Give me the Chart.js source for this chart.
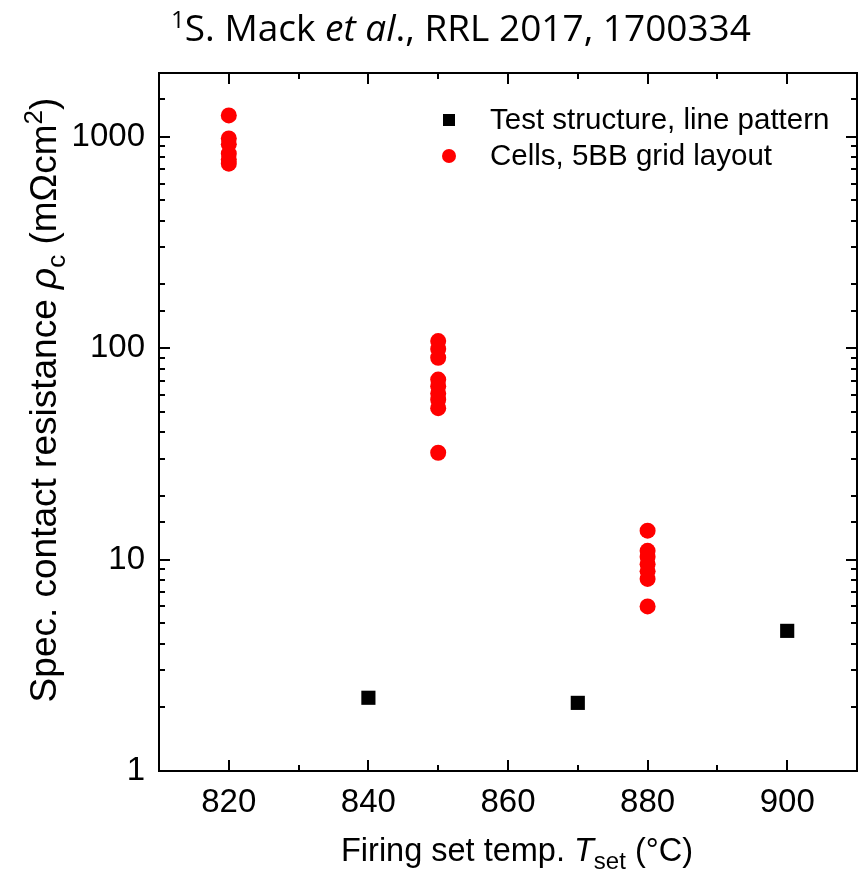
<!DOCTYPE html>
<html>
<head>
<meta charset="utf-8">
<script src="https://cdn.jsdelivr.net/npm/chart.js@4"></script>
<style>
  html, body { margin: 0; padding: 0; background: #fff; overflow: hidden; }
  #chart { display: block; }
</style>
</head>
<body>
<canvas id="chart" width="860" height="878"></canvas>
<script>
/* ---------- DATA ---------- */
const testTemps = [840, 870, 900];
const testValues = [2.22, 2.1, 4.6];

const cellTemps = [
  820, 820, 820, 820, 820, 820,
  850, 850, 850, 850, 850, 850, 850, 850, 850,
  880, 880, 880, 880, 880, 880, 880
];
const cellValues = [
  1260, 980, 920, 830, 780, 745,
  108, 99, 90, 71, 66, 61, 57, 52, 32,
  13.7, 11.0, 10.3, 9.5, 8.8, 8.1, 6.0
];

const xTickLabels = [820, 840, 860, 880, 900];
const yTickLabels = [1, 10, 100, 1000];

const seriesNames = ['Test structure, line pattern', 'Cells, 5BB grid layout'];

const AXIS_FONT = 'Liberation Sans, Arial, sans-serif';

/* ---------- RICH TEXT HELPER ---------- */
// segments: { t, size, style, dy } drawn one after another on one baseline
function drawRich(ctx, segs, x, y, family) {
  let total = 0;
  segs.forEach(s => {
    ctx.font = `${s.style || ''} ${s.size}px ${s.family || family}`;
    s.w = ctx.measureText(s.t).width;
    total += s.w;
  });
  let cx = x - total / 2;
  ctx.textAlign = 'left';
  ctx.textBaseline = 'alphabetic';
  segs.forEach(s => {
    ctx.font = `${s.style || ''} ${s.size}px ${s.family || family}`;
    ctx.fillText(s.t, cx, y + (s.dy || 0));
    cx += s.w;
  });
}

/* ---------- FRAME, TICKS, TITLES, LEGEND ---------- */
const decorPlugin = {
  id: 'decor',
  afterDraw(chart) {
    const ctx = chart.ctx;
    const a = chart.chartArea;
    const xs = chart.scales.x;
    const ys = chart.scales.y;
    ctx.save();
    ctx.strokeStyle = '#000';
    ctx.lineWidth = 2;
    ctx.strokeRect(a.left, a.top, a.right - a.left, a.bottom - a.top);

    ctx.beginPath();
    // x ticks (major every 20, minor every 10), bottom and top
    for (let v = 810; v <= 910; v += 10) {
      const px = Math.round(xs.getPixelForValue(v));
      const len = xTickLabels.includes(v) ? 11 : 6;
      ctx.moveTo(px, a.bottom); ctx.lineTo(px, a.bottom - len);
      ctx.moveTo(px, a.top); ctx.lineTo(px, a.top + len);
    }
    // y log ticks, left and right
    ys.ticks.forEach(t => {
      const v = t.value;
      if (v < ys.min || v > ys.max) return;
      const py = Math.round(ys.getPixelForValue(v));
      const len = yTickLabels.includes(v) ? 11 : 6;
      ctx.moveTo(a.left, py); ctx.lineTo(a.left + len, py);
      ctx.moveTo(a.right, py); ctx.lineTo(a.right - len, py);
    });
    ctx.stroke();

    ctx.fillStyle = '#000';
    // chart title
    drawRich(ctx, [
      { t: '1', size: 24, dy: -13 },
      { t: 'S. Mack ', size: 37 },
      { t: 'et al', size: 37, style: 'italic' },
      { t: '., RRL 2017, 1700334', size: 37 }
    ], 461, 41, 'Open Sans, Noto Sans, sans-serif');

    // x axis title
    drawRich(ctx, [
      { t: 'Firing set temp. ', size: 32.5 },
      { t: 'T', size: 32.5, style: 'italic' },
      { t: 'set', size: 24, dy: 8 },
      { t: ' (°C)', size: 32.5 }
    ], 517, 861, AXIS_FONT);

    // y axis title
    ctx.save();
    ctx.translate(56, 400);
    ctx.rotate(-Math.PI / 2);
    drawRich(ctx, [
      { t: 'Spec. contact resistance ', size: 37 },
      { t: 'ρ', size: 37, style: 'italic' },
      { t: 'c', size: 26, dy: 9 },
      { t: ' (mΩcm', size: 37 },
      { t: '2', size: 26, dy: -14 },
      { t: ')', size: 37 }
    ], 0, 0, AXIS_FONT);
    ctx.restore();

    // legend
    ctx.font = `29.5px ${AXIS_FONT}`;
    ctx.textAlign = 'left';
    ctx.textBaseline = 'alphabetic';
    chart.data.datasets.forEach((ds, i) => {
      const cy = 120 + i * 36;
      ctx.fillStyle = ds.backgroundColor;
      Chart.helpers.drawPoint(ctx, {
        pointStyle: ds.pointStyle,
        radius: i === 0 ? 8.5 : 7,
        borderWidth: 0
      }, 449, cy);
      ctx.fillStyle = '#000';
      ctx.fillText(ds.label, 490, cy + 9);
    });
    ctx.restore();
  }
};

/* ---------- CHART ---------- */
function initChart() {
  const ctx = document.getElementById('chart').getContext('2d');
  new Chart(ctx, {
    type: 'scatter',
    data: {
      datasets: [
        {
          label: seriesNames[0],
          data: testTemps.map((t, i) => ({ x: t, y: testValues[i] })),
          pointStyle: 'rect',
          pointRadius: 10,
          backgroundColor: '#000',
          borderWidth: 0
        },
        {
          label: seriesNames[1],
          data: cellTemps.map((t, i) => ({ x: t, y: cellValues[i] })),
          pointStyle: 'circle',
          pointRadius: 8,
          backgroundColor: '#ff0000',
          borderWidth: 0
        }
      ]
    },
    options: {
      responsive: false,
      animation: false,
      layout: { autoPadding: false, padding: { left: 0, top: 73, right: 3, bottom: 0 } },
      plugins: {
        legend: { display: false },
        tooltip: { enabled: false }
      },
      scales: {
        x: {
          type: 'linear',
          min: 810,
          max: 910,
          afterFit: s => {
            s.height = 107;
            s.paddingLeft = 0;
            s.paddingRight = 0;
          },
          afterBuildTicks: s => { s.ticks = xTickLabels.map(v => ({ value: v })); },
          grid: { display: false, drawTicks: false },
          border: { display: false },
          ticks: {
            color: '#000',
            padding: 12,
            maxRotation: 0,
            font: { family: AXIS_FONT, size: 33 }
          }
        },
        y: {
          type: 'logarithmic',
          min: 1,
          max: 2000,
          afterFit: s => {
            s.width = 159;
            s.paddingTop = 0;
            s.paddingBottom = 0;
          },
          grid: { display: false, drawTicks: false },
          border: { display: false },
          ticks: {
            color: '#000',
            padding: 14,
            autoSkip: false,
            font: { family: AXIS_FONT, size: 33 },
            callback: v => (yTickLabels.includes(v) ? String(v) : '')
          }
        }
      }
    },
    plugins: [decorPlugin]
  });
}

initChart();
</script>
</body>
</html>
